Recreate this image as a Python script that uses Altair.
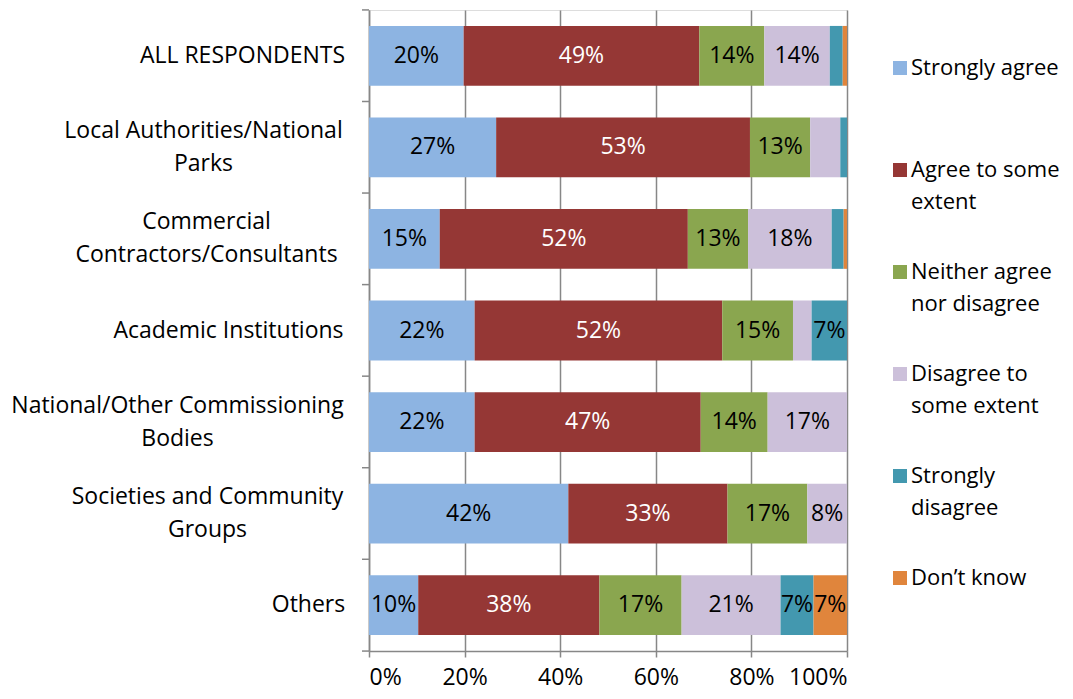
import json
import altair as alt
import pandas as pd

categories = [
    "ALL RESPONDENTS",
    "Local Authorities/National Parks",
    "Commercial Contractors/Consultants",
    "Academic Institutions",
    "National/Other Commissioning Bodies",
    "Societies and Community Groups",
    "Others",
]
category_lines = [
    ["ALL RESPONDENTS"],
    ["Local Authorities/National", "Parks"],
    ["Commercial", "Contractors/Consultants"],
    ["Academic Institutions"],
    ["National/Other Commissioning", "Bodies"],
    ["Societies and Community", "Groups"],
    ["Others"],
]
responses = [
    "Strongly agree",
    "Agree to some extent",
    "Neither agree nor disagree",
    "Disagree to some extent",
    "Strongly disagree",
    "Don\u2019t know",
]
response_lines = [
    ["Strongly agree", ""],
    ["Agree to some", "extent"],
    ["Neither agree", "nor disagree"],
    ["Disagree to", "some extent"],
    ["Strongly", "disagree"],
    ["Don\u2019t know", ""],
]
colors = ["#8DB4E2", "#953735", "#8AA64F", "#CCC0DA", "#4398AF", "#E0853C"]

strongly_agree = [19.8, 26.6, 14.8, 22.1, 22.1, 41.7, 10.3]
agree = [49.3, 53.1, 51.9, 51.8, 47.3, 33.3, 37.9]
neither = [13.6, 12.6, 12.6, 14.8, 14.0, 16.7, 17.2]
disagree = [13.7, 6.3, 17.5, 3.9, 16.6, 8.3, 20.7]
strongly_disagree = [2.7, 1.4, 2.5, 7.4, 0.0, 0.0, 6.9]
dont_know = [0.9, 0.0, 0.7, 0.0, 0.0, 0.0, 7.0]
series = [strongly_agree, agree, neither, disagree, strongly_disagree, dont_know]

x_ticks = [0, 20, 40, 60, 80, 100]

# horizontal centre of each (centred) multi-line category label, measured
# as distance left of the axis line (styling only)
label_center_offset = [127, 166, 163, 141, 192, 162, 61]

rows = []
for ri, (resp, vals) in enumerate(zip(responses, series)):
    for cat, v in zip(categories, vals):
        rows.append({"category": cat, "response": resp, "order": ri, "value": v})
df = pd.DataFrame(rows)
cat_df = pd.DataFrame({"category": categories})

FONT = "Open Sans"
FS = 23
LEG_FS = 22
GRAY = "#878787"
cat_map = json.dumps(dict(zip(categories, category_lines)))
resp_map = json.dumps(dict(zip(responses, response_lines)))

pad_conditions = [
    {"test": "datum.value === " + json.dumps(c), "value": off}
    for c, off in zip(categories, label_center_offset)
]
two_line = [c for c, l in zip(categories, category_lines) if len(l) > 1]

base = alt.Chart(df).transform_stack(
    stack="value", groupby=["category"], as_=["x0", "x1"],
    sort=[alt.SortField("order", order="ascending")],
).transform_calculate(
    mid="(datum.x0 + datum.x1) / 2",
    label="round(datum.value) + '%'",
)

y_scale = alt.Scale(paddingInner=0.347, paddingOuter=0.174)

y_enc = alt.Y(
    "category:N",
    sort=categories,
    scale=y_scale,
    axis=alt.Axis(
        title=None,
        labelExpr=cat_map + "[datum.label]",
        labelFont=FONT,
        labelFontSize=FS,
        labelColor="#000000",
        labelLineHeight=33,
        labelAlign="center",
        labelPadding={"condition": pad_conditions, "value": 100},
        labelOffset={
            "condition": {"test": "indexof(" + json.dumps(two_line) + ", datum.value) >= 0",
                          "value": -16.5},
            "value": 0,
        },
        labelLimit=400,
        ticks=False,
        domainColor=GRAY,
        domainWidth=1.5,
    ),
)

bars = base.mark_bar().encode(
    x=alt.X(
        "x0:Q",
        scale=alt.Scale(domain=[0, 100], nice=False),
        axis=alt.Axis(
            title=None,
            values=x_ticks,
            labelExpr="datum.value + '%'",
            labelFont=FONT,
            labelFontSize=FS,
            labelColor="#000000",
            labelPadding=9,
            tickSize=6,
            tickColor=GRAY,
            tickWidth=1.5,
            domainColor=GRAY,
            domainWidth=1.5,
            grid=True,
            gridColor=GRAY,
            gridWidth=1.5,
        ),
    ),
    x2="x1:Q",
    y=y_enc,
    color=alt.Color(
        "response:N",
        sort=responses,
        scale=alt.Scale(domain=responses, range=colors),
        legend=alt.Legend(
            title=None,
            orient="none",
            legendX=520,
            legendY=47,
            symbolType="square",
            symbolSize=196,
            symbolStrokeWidth=0,
            labelExpr=resp_map + "[datum.label]",
            labelFont=FONT,
            labelFontSize=LEG_FS,
            labelColor="#000000",
            labelOffset=0,
            labelLimit=300,
            rowPadding=48,
        ),
    ),
    order=alt.Order("order:Q"),
)

texts = base.transform_filter("datum.value >= 6.5").mark_text(
    font=FONT, fontSize=FS
).encode(
    x=alt.X("mid:Q"),
    y=alt.Y("category:N", sort=categories),
    text="label:N",
    color=alt.condition(
        "datum.response == 'Agree to some extent'",
        alt.value("#FFFFFF"),
        alt.value("#000000"),
    ),
)

ytick_top = alt.Chart(cat_df).mark_rule(color=GRAY, strokeWidth=1.5, yOffset=-16).encode(
    y=alt.Y("category:N", sort=categories, bandPosition=0),
    x=alt.value(-7),
    x2=alt.value(0),
)
ytick_bottom = alt.Chart(cat_df).transform_filter(
    "datum.category === " + json.dumps(categories[-1])
).mark_rule(color=GRAY, strokeWidth=1.5, yOffset=16).encode(
    y=alt.Y("category:N", sort=categories, bandPosition=1),
    x=alt.value(-7),
    x2=alt.value(0),
)

chart = alt.layer(bars, texts, ytick_top, ytick_bottom).properties(
    width=478,
    height=641,
    autosize=alt.AutoSizeParams(type="none"),
    padding={"left": 361, "top": 2, "right": 218, "bottom": 40},
).configure_view(stroke=None).configure(
    background="#FFFFFF",
    style={"guide-label": {"lineHeight": 32}},
)

chart.save("out.html", embed_options={"renderer": "svg", "actions": False})
